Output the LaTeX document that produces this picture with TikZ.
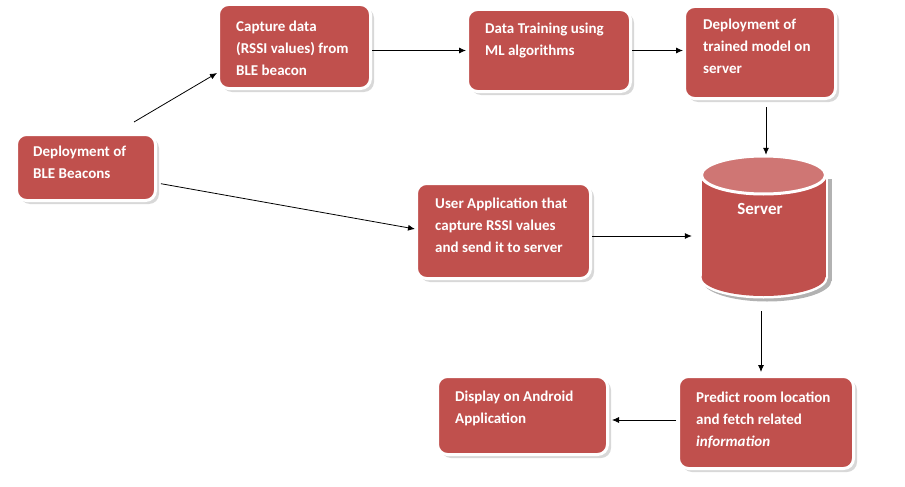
\documentclass[tikz,border=0pt]{standalone}
\usepackage{fontspec}
\setmainfont{Carlito}
\usetikzlibrary{arrows.meta,shadows,calc}
\definecolor{boxred}{HTML}{C0504D}
\definecolor{topred}{HTML}{CF7674}
\begin{document}
\begin{tikzpicture}[x=1pt,y=-1pt,
  rbox/.style={draw=white, line width=3pt, fill=boxred, rounded corners=10pt, inner sep=0pt,
    drop shadow={shadow xshift=3.5pt,shadow yshift=-3.5pt,fill=black!30}},
  txt/.style={anchor=north west, inner sep=0pt, align=left, text=white,
    font=\fontsize{15}{22}\selectfont\bfseries},
  conn/.style={-{Latex[length=7pt,width=6pt]}, line width=0.8pt, black}]
\useasboundingbox (0,0) rectangle (905,487);

% boxes
\node[rbox, minimum width=139pt, minimum height=66pt] (b1) at (86,167.5) {};
\node[rbox, minimum width=152pt, minimum height=84pt] (b2) at (294.5,46.5) {};
\node[rbox, minimum width=163pt, minimum height=82pt] (b3) at (549,50.5) {};
\node[rbox, minimum width=151pt, minimum height=92pt] (b4) at (760,52.5) {};
\node[rbox, minimum width=174pt, minimum height=95pt] (b6) at (503.5,231) {};
\node[rbox, minimum width=175pt, minimum height=92pt] (b7) at (766,422.5) {};
\node[rbox, minimum width=170pt, minimum height=78pt] (b8) at (522.5,415.5) {};

% texts
\node[txt] (t1) at (33,146) {Deployment of\\BLE Beacons};
\node[txt] (t2) at (236,20.5) {Capture data\\(RSSI values) from\\BLE beacon};
\node[txt] (t3) at (485,23) {Data Training using\\ML algorithms};
\node[txt] (t4) at (703,19) {Deployment of\\trained model on\\server};
\node[txt] (t6) at (435,198) {User Application that\\capture RSSI values\\and send it to server};
\node[txt] (t7) at (696,391.5) {Predict room location\\and fetch related\\\itshape information};
\node[txt] (t8) at (455,390.5) {Display on Android\\Application};

% server cylinder
\begin{scope}[shift={(3.5,3.5)}]
  \fill[black!30] (699,175) rectangle (828,277);
  \fill[black!30] (763.5,277) ellipse[x radius=64.5, y radius=21];
\end{scope}
\draw[white, line width=5pt] (701.5,175) -- (701.5,277);
\draw[white, line width=5pt] (825.5,175) -- (825.5,277);
\draw[white, line width=5pt] (763.5,277) ellipse[x radius=62, y radius=19];
\fill[boxred] (701.5,175) rectangle (825.5,277);
\fill[boxred] (763.5,277) ellipse[x radius=62, y radius=19];
\filldraw[fill=topred, draw=white, line width=3pt] (763.5,175) ellipse[x radius=62, y radius=19];
\node[inner sep=0pt, minimum width=127pt, minimum height=143pt] (srv) at (763.5,226.5) {};
\node[inner sep=0pt, text=white, font=\fontsize{17}{20}\selectfont\bfseries] (st) at (760,209) {Server};

% connector end points
\coordinate (c6) at ([yshift=-5pt]b6.east);
\coordinate (c7) at ([yshift=2.5pt]b7.west);

% connectors
\draw[conn] ([xshift=48pt,yshift=11pt]b1.north) -- ([yshift=-26.5pt]b2.west);
\draw[conn] (b2.east |- b3.west) -- (b3.west);
\draw[conn] (b3.east) -- (b4.west |- b3.east);
\draw[conn, shorten <=7pt] ([xshift=6pt]b4.south) -- ([xshift=6pt]b4.south |- srv.north);
\draw[conn, shorten <=4pt] ([yshift=-15.5pt]b1.east) -- ([yshift=2pt]b6.west);
\draw[conn, shorten >=8pt] (c6) -- (srv.west |- c6);
\draw[conn, shorten <=13pt, shorten >=3pt] ([xshift=-2.5pt]srv.south) -- ([xshift=-2.5pt]srv.south |- b7.north);
\draw[conn, shorten <=1pt, shorten >=3pt] (c7) -- (b8.east |- c7);
\end{tikzpicture}
\end{document}
